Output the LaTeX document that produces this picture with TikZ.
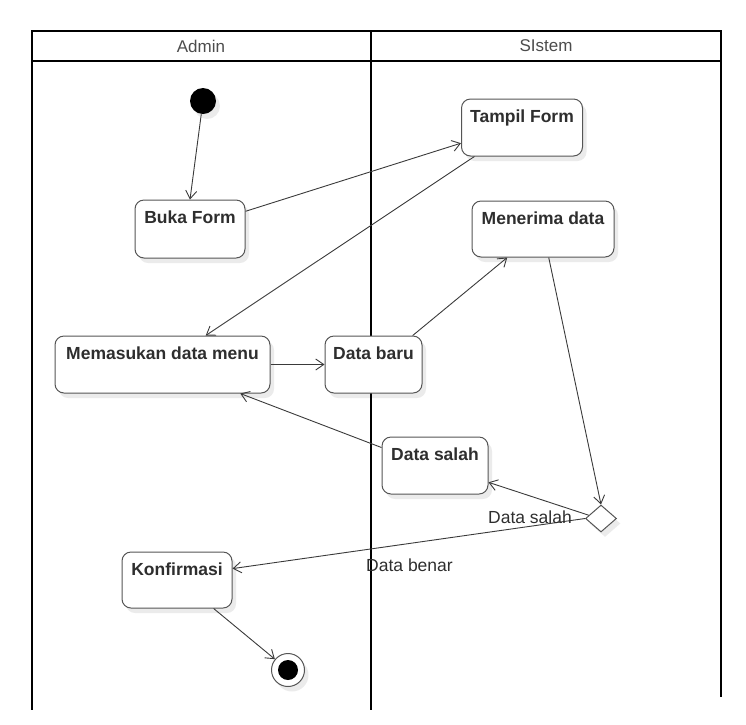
\documentclass[tikz,border=0pt]{standalone}
\usepackage{fontspec}
\setmainfont{Liberation Sans}
\usetikzlibrary{arrows.meta,shapes.geometric,shadows,calc}
\definecolor{edgegray}{HTML}{3A3A3A}
\definecolor{boxgray}{HTML}{555555}
\definecolor{txtgray}{HTML}{2E2E2E}
\begin{document}
\begin{tikzpicture}[x=1pt,y=-1pt,
  lane/.style={line width=2.4pt,draw=black},
  shad/.style={drop shadow={shadow xshift=4pt,shadow yshift=-5pt,fill=black,opacity=0.08}},
  act/.style={draw=boxgray,line width=1pt,rounded corners=9pt,fill=white,shad,
    font=\fontsize{17.5}{20}\selectfont\bfseries,text=txtgray,
    text height=13pt,inner ysep=10pt,inner xsep=0pt,anchor=center},
  flow/.style={draw=edgegray,line width=0.9pt,-{Straight Barb[length=8pt,width=11pt]}},
  lbl/.style={font=\fontsize{17.5}{20}\selectfont,text=txtgray,inner sep=0pt},
  hdr/.style={font=\fontsize{17}{20}\selectfont,text=black!70,inner sep=0pt}
]
\useasboundingbox (0,0) rectangle (746,724);
% swimlanes
\draw[lane] (32,61) -- (32,710);
\draw[lane] (371,31) -- (371,710);
\draw[lane] (721,61) -- (721,697);
\draw[lane] (32,31) rectangle (721,61);
\node[hdr] (hadmin) at (201,46) {Admin};
\node[hdr] (hsistem) at (546,46) {SIstem};
% nodes
\node[circle,fill=black,minimum size=26pt,inner sep=0pt,shad] (init) at (203,101) {};
\node[act,minimum width=110pt,text depth=25pt] (buka) at (190,229) {Buka Form};
\node[act,minimum width=121pt,text depth=24pt] (tampil) at (522,127.5) {Tampil Form};
\node[act,minimum width=142pt,text depth=23pt] (terima) at (543,229) {Menerima data};
\node[act,minimum width=215pt,text depth=24pt] (masuk) at (162.5,364.5) {Memasukan data menu};
\node[act,minimum width=97pt,text depth=24pt] (baru) at (373.5,364.5) {Data baru};
\node[act,minimum width=106pt,text depth=24pt] (salah) at (435,465.5) {Data salah};
\node[act,minimum width=110pt,text depth=23pt] (konf) at (177,580) {Konfirmasi};
\node[diamond,draw=boxgray,line width=1pt,fill=white,minimum width=31pt,minimum height=27pt,inner sep=0pt,shad] (dia) at (601,518.5) {};
\node[circle,draw=boxgray,line width=1pt,fill=white,minimum size=33pt,inner sep=0pt,shad] (final) at (288,670) {};
\node[circle,fill=black,minimum size=20pt,inner sep=0pt] (finalin) at (final.center) {};
% edges
\draw[flow] (init) -- (buka.north);
\draw[flow] ($(buka.north east)!0.2!(buka.south east)$) -- ($(tampil.north west)!0.77!(tampil.south west)$);
\draw[flow] ($(tampil.south west)!0.11!(tampil.south east)$) -- ($(masuk.north)!0.4!(masuk.north east)$);
\draw[flow] (masuk.east) -- (baru.west);
\draw[flow] ($(baru.north west)!0.9!(baru.north east)$) -- ($(terima.south west)!0.25!(terima.south east)$);
\draw[flow] ($(terima.south west)!0.54!(terima.south east)$) -- (dia.north);
\draw[flow] (dia.165) -- ($(salah.north east)!0.79!(salah.south east)$);
\draw[flow] (dia.west) -- ($(konf.north east)!0.3!(konf.south east)$);
\draw[flow] ($(salah.north west)!0.19!(salah.south west)$) -- ($(masuk.south)!0.72!(masuk.south east)$);
\draw[flow] ($(konf.south west)!0.83!(konf.south east)$) -- (final);
% labels
\node[lbl,anchor=base east] (lsalah) at (572,523) {Data salah};
\node[lbl,anchor=base west] (lbenar) at (366,571) {Data benar};
\end{tikzpicture}
\end{document}
